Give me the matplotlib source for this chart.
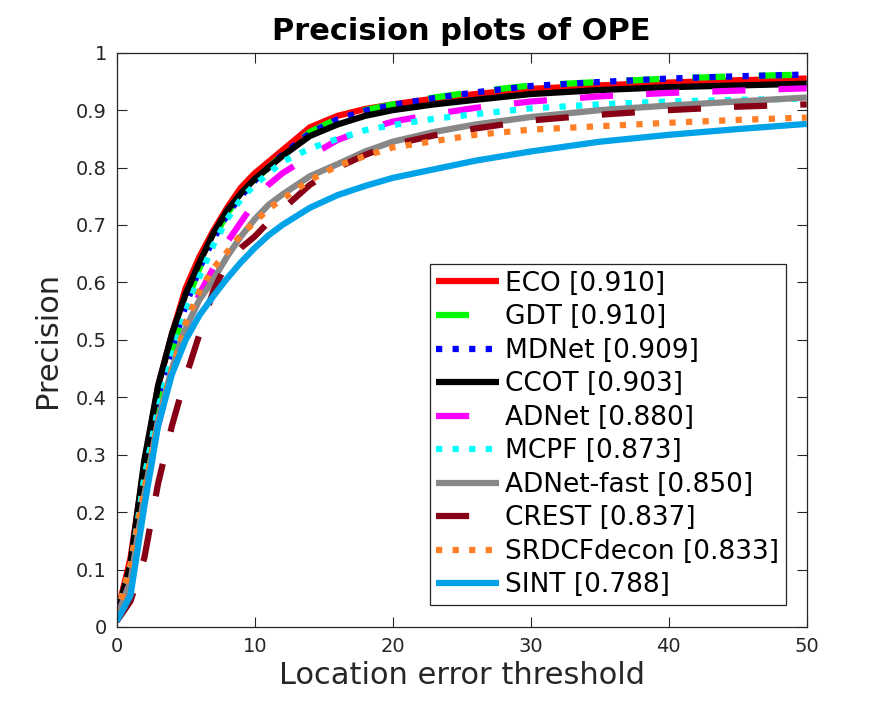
import matplotlib
matplotlib.use("Agg")
from matplotlib import pyplot as plt

# location error thresholds (pixels) at which values were read
thresholds = [0, 1, 2, 3, 4, 5, 6, 7, 8, 9, 10, 11, 12, 14, 16, 18, 20, 23, 26, 30, 35, 40, 45, 50]

eco = [0.02, 0.12, 0.28, 0.42, 0.51, 0.59, 0.645, 0.69, 0.73, 0.765, 0.79, 0.81, 0.83, 0.87,
       0.89, 0.902, 0.91, 0.92, 0.928, 0.937, 0.943, 0.948, 0.952, 0.955]
gdt = [0.015, 0.10, 0.26, 0.39, 0.48, 0.56, 0.625, 0.675, 0.72, 0.752, 0.778, 0.80, 0.822, 0.862,
       0.885, 0.90, 0.91, 0.922, 0.932, 0.943, 0.949, 0.955, 0.959, 0.962]
mdnet = [0.015, 0.10, 0.265, 0.395, 0.485, 0.56, 0.625, 0.675, 0.718, 0.75, 0.777, 0.80, 0.822, 0.86,
         0.884, 0.899, 0.909, 0.921, 0.931, 0.942, 0.949, 0.955, 0.959, 0.962]
ccot = [0.02, 0.11, 0.29, 0.42, 0.51, 0.58, 0.635, 0.685, 0.725, 0.755, 0.78, 0.80, 0.82, 0.855,
        0.875, 0.89, 0.90, 0.91, 0.918, 0.928, 0.935, 0.94, 0.943, 0.946]
adnet = [0.015, 0.08, 0.22, 0.35, 0.45, 0.52, 0.58, 0.625, 0.67, 0.705, 0.74, 0.77, 0.79, 0.82,
         0.848, 0.866, 0.88, 0.893, 0.904, 0.915, 0.924, 0.93, 0.934, 0.938]
mcpf = [0.02, 0.10, 0.26, 0.38, 0.47, 0.55, 0.61, 0.665, 0.71, 0.745, 0.77, 0.79, 0.81, 0.833,
        0.85, 0.865, 0.874, 0.885, 0.893, 0.903, 0.91, 0.915, 0.918, 0.92]
adnet_fast = [0.015, 0.08, 0.23, 0.36, 0.45, 0.52, 0.57, 0.605, 0.645, 0.68, 0.71, 0.735, 0.753, 0.785,
              0.806, 0.828, 0.845, 0.862, 0.875, 0.888, 0.90, 0.908, 0.915, 0.922]
crest = [0.01, 0.045, 0.12, 0.25, 0.35, 0.435, 0.51, 0.585, 0.635, 0.66, 0.68, 0.705, 0.727, 0.77,
         0.80, 0.822, 0.84, 0.856, 0.868, 0.882, 0.892, 0.90, 0.906, 0.91]
srdcfdecon = [0.02, 0.11, 0.24, 0.355, 0.447, 0.53, 0.585, 0.625, 0.653, 0.683, 0.705, 0.728, 0.745, 0.778,
              0.803, 0.82, 0.835, 0.846, 0.857, 0.866, 0.872, 0.878, 0.883, 0.887]
sint = [0.01, 0.055, 0.21, 0.35, 0.44, 0.50, 0.543, 0.576, 0.607, 0.635, 0.66, 0.682, 0.70, 0.73,
        0.752, 0.768, 0.782, 0.797, 0.812, 0.828, 0.845, 0.857, 0.867, 0.876]

names = ["ECO", "GDT", "MDNet", "CCOT", "ADNet", "MCPF", "ADNet-fast", "CREST", "SRDCFdecon", "SINT"]
scores = [0.910, 0.910, 0.909, 0.903, 0.880, 0.873, 0.850, 0.837, 0.833, 0.788]
curves = [eco, gdt, mdnet, ccot, adnet, mcpf, adnet_fast, crest, srdcfdecon, sint]
colors = ["#FF0000", "#00FF00", "#0000FF", "#000000", "#FF00FF", "#00FFFF",
          "#888888", "#880015", "#FF7F27", "#00A2E8"]
styles = ["solid", "dashed", "dotted", "solid", "dashed", "dotted", "solid", "dashed", "dotted", "solid"]

dash_patterns = {"dashed": (5.3, 5.3), "dotted": (1.0, 1.65)}

fig = plt.figure(figsize=(8.91, 7.03), dpi=100)
ax = fig.add_axes([116.7 / 891, 1 - 627 / 703, 690 / 891, (627 - 52.7) / 703])

for name, score, y, c, st in zip(names, scores, curves, colors, styles):
    line, = ax.plot(thresholds, y, color=c, lw=4.5, label="%s [%.3f]" % (name, score),
                    solid_capstyle="butt", dash_capstyle="butt", solid_joinstyle="round")
    if st in dash_patterns:
        line.set_dashes(dash_patterns[st])

ax.set_xlim(0, 50)
ax.set_ylim(0, 1)
ax.set_xticks([0, 10, 20, 30, 40, 50])
ax.set_xticklabels(["0", "10", "20", "30", "40", "50"])
yt = [0, 0.1, 0.2, 0.3, 0.4, 0.5, 0.6, 0.7, 0.8, 0.9, 1]
ax.set_yticks(yt)
ax.set_yticklabels(["0", "0.1", "0.2", "0.3", "0.4", "0.5", "0.6", "0.7", "0.8", "0.9", "1"])

dark = "#262626"
ax.tick_params(direction="in", length=7, width=0.8, color=dark, labelcolor=dark,
               labelsize=14, top=True, right=True, pad=7)
for sp in ax.spines.values():
    sp.set_color(dark)
    sp.set_linewidth(0.9)

ax.set_xlabel("Location error threshold", fontsize=22, color=dark, labelpad=4)
ax.set_ylabel("Precision", fontsize=22, color=dark, labelpad=10)
ax.set_title("Precision plots of OPE", fontsize=22, fontweight="bold", pad=9)

leg = ax.legend(loc="lower right", bbox_to_anchor=(786 / 891, 1 - 605 / 703),
                bbox_transform=fig.transFigure, borderaxespad=0, fontsize=19,
                fancybox=False, framealpha=1, edgecolor=dark, handlelength=2.39,
                handletextpad=0.23, labelspacing=0.285, borderpad=0.25)
leg.get_frame().set_linewidth(0.9)
for t in leg.get_texts():
    t.set_color("#000000")

fig.savefig("out.png", dpi=100)
